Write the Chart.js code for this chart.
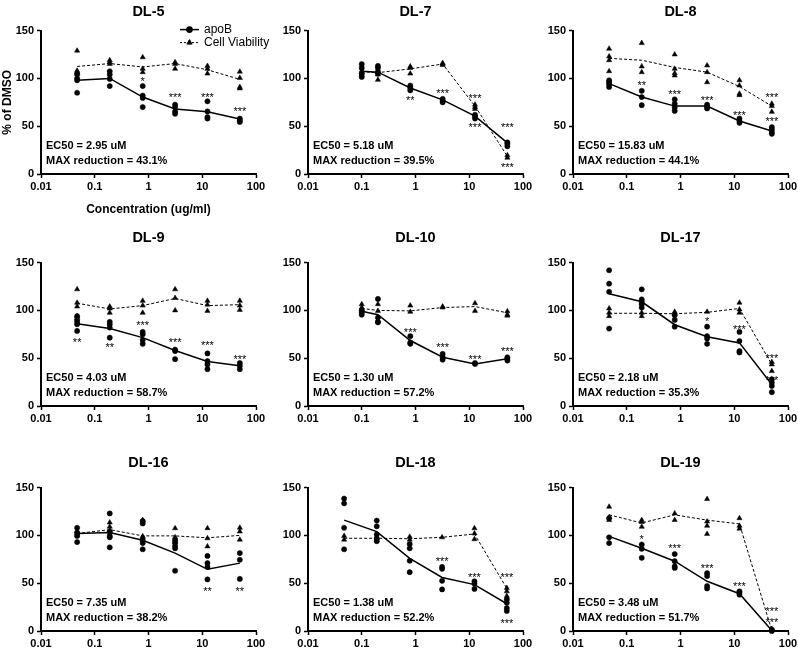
<!DOCTYPE html>
<html>
<head>
<meta charset="utf-8">
<title>apoB dose response</title>
<script src="https://cdn.jsdelivr.net/npm/chart.js@4.4.0/dist/chart.umd.min.js"></script>
<style>
  html, body { margin: 0; padding: 0; background: #fff; }
  body { width: 798px; height: 652px; position: relative; overflow: hidden; }
  canvas { position: absolute; }
</style>
</head>
<body>
<script>
const FONT = "'Liberation Sans', Arial, Helvetica, sans-serif";

// concentrations (ug/ml)
const concA = [0.047, 0.19, 0.78, 3.125, 12.5, 50];
const concB = [0.1, 0.2, 0.8, 3.2, 12.8, 51.2];
const xTicks = [0.01, 0.1, 1, 10, 100];
const yTicks = [0, 50, 100, 150];

const titles = ['DL-5', 'DL-7', 'DL-8', 'DL-9', 'DL-10', 'DL-17', 'DL-16', 'DL-18', 'DL-19'];
const ec50 = ['2.95', '5.18', '15.83', '4.03', '1.30', '2.18', '7.35', '1.38', '3.48'];
const maxRed = ['43.1', '39.5', '44.1', '58.7', '57.2', '35.3', '38.2', '52.2', '51.7'];

// DL-5
const dl5ApoB = [98, 100, 80.5, 68, 65, 57.5];
const dl5ApoBReps = [[104, 100, 98, 85], [107.5, 104, 99.5, 92], [92, 82, 79.5, 70], [72.5, 70, 65.5, 63], [76, 65.5, 59.5, 58], [58, 56, 54.5]];
const dl5Via = [112.5, 115.5, 112, 115.5, 109, 99];
const dl5ViaReps = [[129, 107, 106, 108], [119, 117, 115], [122, 110, 106.5], [117, 115, 110], [113, 110, 105], [107, 100.5, 91, 89.5]];
const dl5Stars = [[2, 98, '*'], [3, 82, '***'], [4, 82, '***'], [5, 67.5, '***']];

// DL-7
const dl7ApoB = [107.5, 106.5, 90, 77.5, 60.5, 32.5];
const dl7ApoBReps = [[115, 111, 105, 101.5], [113, 111, 107, 105], [92.5, 90, 87.5], [78.5, 76.5, 75], [62, 60.5, 58], [33, 31.5, 29]];
const dl7Via = [107, 106, 110, 115, 71, 18.5];
const dl7ViaReps = [[108, 106, 104], [107, 104, 98.5], [112.5, 111, 105], [116, 115, 114], [72.5, 70, 68], [19.5, 17]];
const dl7Stars = [[2, 78, '**'], [3, 86, '***'], [4, 81, '***'], [4, 50, '***'], [5, 50.5, '***'], [5, 8.5, '***']];

// DL-8
const dl8ApoB = [94.5, 80.5, 71, 71, 55.5, 45];
const dl8ApoBReps = [[98, 96, 94, 91], [87, 80.5, 72], [78, 73.5, 69.5, 66], [72.5, 70, 68.5], [58, 55.5, 53.5], [49, 46.5, 44, 42]];
const dl8Via = [121, 119, 111.5, 106.5, 91.5, 71];
const dl8ViaReps = [[131, 123, 119, 107.5], [137, 112.5, 106.5], [125, 110, 105.5, 103], [113.5, 106.5, 96], [98, 92.5, 84, 82.5], [73.5, 71, 65]];
const dl8Stars = [[1, 94, '**'], [2, 84.5, '***'], [3, 78, '***'], [4, 63, '***'], [5, 82, '***'], [5, 56, '***']];

// DL-9
const dl9ApoB = [86, 81, 71.5, 58, 46.5, 42];
const dl9ApoBReps = [[94, 90.5, 88, 85.5, 78.5], [88, 85.5, 82, 71.5], [77.5, 75, 69, 65], [59, 57.5, 49], [55, 47, 43.5, 38.5], [45, 42, 38.5]];
const dl9Via = [107.5, 101.5, 105, 112.5, 105, 106];
const dl9ViaReps = [[122, 108, 104, 94], [104, 102, 97.5], [110, 105, 97.5], [122, 113, 100], [110, 106, 99.5], [110, 105, 100.5]];
const dl9Stars = [[0, 68, '**'], [1, 63, '**'], [2, 85.5, '***'], [3, 68, '***'], [4, 64.5, '***'], [5, 50, '***']];

// DL-10
const dl10ApoB = [99, 95.5, 68.5, 51, 44, 49.5];
const dl10ApoBReps = [[100, 98, 95.5], [112, 92.5, 88, 87.5], [73, 66.5, 65], [54.5, 51, 48.5], [45, 44], [51, 49.5, 47.5]];
const dl10Via = [102, 100, 99.5, 103, 104, 97.5];
const dl10ViaReps = [[106.5, 103, 101], [106.5, 99.5], [105, 98.5], [104, 103], [107.5, 99.5], [99, 95.5, 94.5]];
const dl10Stars = [[2, 79, '***'], [3, 62.5, '***'], [4, 50, '***'], [5, 58.5, '***']];

// DL-17
const dl17ApoB = [117.5, 109, 85, 72.5, 66, 22.5];
const dl17ApoBReps = [[142, 128, 119.5, 81], [122, 111.5, 109, 106.5, 103], [95, 90, 83], [83, 73, 70.5, 65], [77.5, 68, 57.5, 56], [28, 24.5, 21, 14.5]];
const dl17Via = [97, 97, 96.5, 98, 102, 43.5];
const dl17ViaReps = [[102, 97.5, 94], [97.5, 94], [98.5, 96.5], [98.5], [108, 101, 97.5], [46, 43.5, 36.5]];
const dl17Stars = [[3, 89.5, '*'], [4, 82, '***'], [5, 51.5, '***'], [5, 28.5, '***']];

// DL-16
const dl16ApoB = [102, 103, 95, 81.5, 64.5, 71];
const dl16ApoBReps = [[108, 103, 99.5, 93], [123, 104, 99.5, 98, 87.5], [115, 112.5, 95, 92, 85.5], [95, 92.5, 89, 86.5, 63], [78.5, 71, 67, 54], [81.5, 74.5, 54.5]];
const dl16Via = [102, 106, 99.5, 99.5, 97.5, 100];
const dl16ViaReps = [[104.5, 102, 100.5], [113.5, 109, 105], [116, 99, 98], [107.5, 98, 93], [107.5, 97, 88.5], [108, 104, 95.5]];
const dl16Stars = [[4, 43, '**'], [5, 43, '**']];

// DL-18
const dl18ApoB = [116, 104, 76, 56, 48.5, 28.5];
const dl18ApoBReps = [[138.5, 133.5, 108, 85.5], [115.5, 109.5, 101, 97, 94], [91, 86.5, 73.5, 61.5], [67, 65, 52.5, 43.5], [52, 49.5, 44], [33, 29.5, 24, 21]];
const dl18Via = [97, 97, 96.5, 98, 101.5, 44.5];
const dl18ViaReps = [[99.5, 95.5], [97, 95], [98.5, 95.5], [98], [107.5, 102, 96], [45, 41.5, 36.5]];
const dl18Stars = [[3, 74.5, '***'], [4, 58, '***'], [5, 58, '***'], [5, 9.5, '***']];

// DL-19
const dl19ApoB = [99, 86.5, 73, 52, 39, 0.5];
const dl19ApoBReps = [[118, 98, 92], [90.5, 86, 76.5], [80.5, 73, 67.5, 66], [60.5, 57.5, 47, 44.5], [41.5, 40, 38], [1.5, 0.5, 0]];
const dl19Via = [121.5, 113, 121.5, 116, 112, 0.5];
const dl19ViaReps = [[130, 119, 116], [116, 114, 109], [123, 116], [138, 114.5, 110, 101.5], [118, 110, 107], [2]];
const dl19Stars = [[1, 97, '*'], [2, 87.5, '***'], [3, 66.5, '***'], [4, 48, '***'], [5, 22.5, '***'], [5, 10.5, '***']];

const panels = [
  [concA, dl5ApoB, dl5ApoBReps, dl5Via, dl5ViaReps, dl5Stars],
  [concB, dl7ApoB, dl7ApoBReps, dl7Via, dl7ViaReps, dl7Stars],
  [concA, dl8ApoB, dl8ApoBReps, dl8Via, dl8ViaReps, dl8Stars],
  [concA, dl9ApoB, dl9ApoBReps, dl9Via, dl9ViaReps, dl9Stars],
  [concB, dl10ApoB, dl10ApoBReps, dl10Via, dl10ViaReps, dl10Stars],
  [concA, dl17ApoB, dl17ApoBReps, dl17Via, dl17ViaReps, dl17Stars],
  [concA, dl16ApoB, dl16ApoBReps, dl16Via, dl16ViaReps, dl16Stars],
  [concA, dl18ApoB, dl18ApoBReps, dl18Via, dl18ViaReps, dl18Stars],
  [concA, dl19ApoB, dl19ApoBReps, dl19Via, dl19ViaReps, dl19Stars]
];

// page placement of each canvas
const colLeft = [0, 267, 532];
const rowTop = [-6, 226, 451];

Chart.defaults.font.family = FONT;
Chart.defaults.color = '#000';

function meanPoints(conc, vals) {
  return vals.map((v, i) => ({ x: conc[i], y: v }));
}
function repPoints(conc, reps) {
  return reps.flatMap((arr, i) => arr.map(v => ({ x: conc[i], y: v })));
}

panels.forEach(([conc, apoB, apoBReps, via, viaReps, stars], k) => {
  const row = Math.floor(k / 3), col = k % 3;
  const first = k === 0;
  const canvas = document.createElement('canvas');
  canvas.width = 276;
  canvas.height = 224;
  canvas.style.left = colLeft[col] + 'px';
  canvas.style.top = rowTop[row] + 'px';
  document.body.appendChild(canvas);

  // asterisks, EC50 text and (first panel) legend
  const annot = {
    id: 'annot',
    afterDatasetsDraw(chart) {
      const { ctx, chartArea: a, scales: { x, y } } = chart;
      ctx.save();
      ctx.fillStyle = '#000';
      ctx.strokeStyle = '#000';
      ctx.textAlign = 'center';
      ctx.textBaseline = 'middle';
      ctx.font = '11px ' + FONT;
      stars.forEach(([i, v, s]) => {
        ctx.fillText(s, x.getPixelForValue(conc[i]), y.getPixelForValue(v) + 2);
      });
      ctx.textAlign = 'left';
      ctx.font = 'bold 11px ' + FONT;
      ctx.fillText('EC50 = ' + ec50[k] + ' uM', a.left + 5, a.bottom - 28);
      ctx.fillText('MAX reduction = ' + maxRed[k] + '%', a.left + 5, a.bottom - 13.5);

      if (first) {
        const lx = a.left + 139, tx = a.left + 163;
        const ly = [a.top - 1, a.top + 12];
        ctx.font = '12px ' + FONT;
        ctx.lineWidth = 1.5;
        ctx.setLineDash([]);
        ctx.beginPath(); ctx.moveTo(lx, ly[0]); ctx.lineTo(lx + 19, ly[0]); ctx.stroke();
        Chart.helpers.drawPoint(ctx, { pointStyle: 'circle', radius: 2.6, rotation: 0, borderWidth: 0.5 }, lx + 9.5, ly[0]);
        ctx.fillText('apoB', tx, ly[0]);
        ctx.lineWidth = 1;
        ctx.setLineDash([2, 2]);
        ctx.beginPath(); ctx.moveTo(lx, ly[1]); ctx.lineTo(lx + 19, ly[1]); ctx.stroke();
        ctx.setLineDash([]);
        Chart.helpers.drawPoint(ctx, { pointStyle: 'triangle', radius: 3, rotation: 0, borderWidth: 0.5 }, lx + 9.5, ly[1]);
        ctx.fillText('Cell Viability', tx, ly[1]);
      }
      ctx.restore();
    }
  };

  new Chart(canvas.getContext('2d'), {
    type: 'line',
    data: {
      datasets: [
        { label: 'apoB', data: meanPoints(conc, apoB), borderColor: '#000', borderWidth: 1.5, pointRadius: 0, clip: false },
        { label: 'Cell Viability', data: meanPoints(conc, via), borderColor: '#000', borderWidth: 1, borderDash: [3, 2], pointRadius: 0, clip: false },
        { label: 'apoB replicates', data: repPoints(conc, apoBReps), showLine: false, pointStyle: 'circle', pointRadius: 2.6, backgroundColor: '#000', borderColor: '#000', borderWidth: 0.5, clip: false },
        { label: 'Viability replicates', data: repPoints(conc, viaReps), showLine: false, pointStyle: 'triangle', pointRadius: 3, backgroundColor: '#000', borderColor: '#000', borderWidth: 0.5, clip: false }
      ]
    },
    options: {
      responsive: false,
      animation: false,
      events: [],
      layout: { padding: { left: 0, right: 20, top: 0, bottom: 0 } },
      plugins: {
        legend: { display: false },
        tooltip: { enabled: false },
        title: {
          display: true,
          text: titles[k],
          fullSize: false,
          color: '#000',
          font: { size: 14.5, weight: 'bold' },
          padding: row === 0 ? { top: 9.6, bottom: 9.6 } : { top: 3.6, bottom: 15.6 }
        }
      },
      scales: {
        x: {
          type: 'logarithmic',
          min: 0.01,
          max: 100,
          afterBuildTicks: s => { s.ticks = xTicks.map(v => ({ value: v })); },
          afterFit: s => { s.height = 44; },
          ticks: { autoSkip: false, maxRotation: 0, padding: 2, color: '#000', font: { size: 11, weight: 'bold' }, callback: v => String(v) },
          grid: { drawOnChartArea: false, tickLength: 4, tickWidth: 1.5, tickColor: '#000' },
          border: { color: '#000', width: 2 },
          title: { display: first, text: 'Concentration (ug/ml)', color: '#000', font: { size: 12, weight: 'bold' }, padding: { top: 0, bottom: 1 } }
        },
        y: {
          min: 0,
          max: 150,
          afterBuildTicks: s => { s.ticks = yTicks.map(v => ({ value: v })); },
          afterFit: s => { s.width = 41; },
          ticks: { padding: 3, color: '#000', font: { size: 11, weight: 'bold' } },
          grid: { drawOnChartArea: false, tickLength: 4, tickWidth: 1.5, tickColor: '#000' },
          border: { color: '#000', width: 2 },
          title: { display: first, text: '% of DMSO', color: '#000', font: { size: 12, weight: 'bold' }, padding: 0 }
        }
      }
    },
    plugins: [annot]
  });
});
</script>
</body>
</html>
